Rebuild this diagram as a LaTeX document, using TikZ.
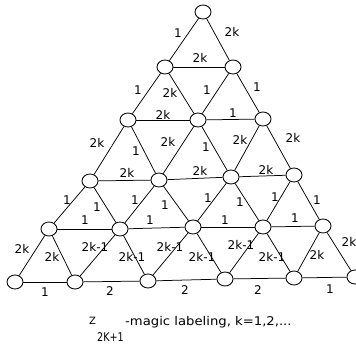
\documentclass[tikz,border=0pt]{standalone}
\usepackage{fontspec}
\setmainfont{DejaVu Sans}
\usetikzlibrary{shapes.geometric}
\begin{document}
\begin{tikzpicture}[x=1pt,y=-1pt,
  vtx/.style={draw,ellipse,fill=white,minimum width=16pt,minimum height=14pt,inner sep=0pt,line width=0.85pt},
  edg/.style={line width=0.75pt},
  lab/.style={inner sep=0pt,font=\fontsize{12}{12}\selectfont},
  captext/.style={inner sep=0pt,anchor=base west}]
\useasboundingbox (0,0) rectangle (356,350);
\clip (0,0) rectangle (356,350);
\foreach \n/\x/\y in {11/203/12,
  21/165/67, 22/233/67,
  31/128/120, 32/198/120, 33/263/119,
  41/90/181, 42/159/180, 43/231/177, 44/294/175,
  51/49/229, 52/120/229, 53/193/227, 54/263/227, 55/323/226,
  61/15/282, 62/75/282, 63/148/281, 64/225/279, 65/294/278, 66/355/277}
  \node[vtx] (n\n) at (\x,\y) {};
\foreach \a/\b in {11/21, 21/31, 22/32, 31/41, 32/42, 33/43, 41/51, 42/52, 43/53, 44/54, 51/61, 52/62, 53/63, 54/64, 55/65,
  11/22, 21/32, 22/33, 31/42, 32/43, 33/44, 41/52, 42/53, 43/54, 44/55, 51/62, 52/63, 53/64, 54/65, 55/66,
  21/22, 31/32, 32/33, 41/42, 42/43, 43/44, 51/52, 52/53, 53/54, 54/55, 61/62, 62/63, 63/64, 64/65, 65/66}
  \draw[edg] (n\a) -- (n\b);
\foreach \t/\x/\y [count=\i] in {1/178/33, 2k/232/32,
  2k/200/58,
  1/138/90, 2k/170/93, 1/207/90, 1/257/87,
  2k/163/115, 1/233/113,
  2k/97/143, 1/136/151, 2k/168/142, 1/206/147, 2k/240/140, 2k/293/138,
  2k/127/173, 2k/200/171, 2k/266/170,
  1/67/200, 1/97/207, 1/135/200, 1/165/205, 1/208/198, 1/240/202, 1/275/197, 1/317/200,
  1/85/220, 1/150/220, 1/225/220, 1/295/218,
  2k/22/249, 2k/52/257, 2k-1/95/247, 2k-1/132/257, 2k-1/170/247, 2k-1/202/257, 2k-1/241/245, 2k-1/272/257, 2k/317/255, 2k/349/242,
  1/45/292, 2/110/291, 2/185/290, 2/258/290, 1/330/289}
  \node[lab] (l\i) at (\x,\y) {\t};
\node[captext,font=\fontsize{10}{10}\selectfont] (capz) at (89,324) {Z};
\node[captext,font=\fontsize{12}{12}\selectfont] (capsub) at (97,341) {\scalebox{0.8}[1]{2K+1}};
\node[captext,font=\fontsize{12}{12}\selectfont] (captxt) at (125,325) {\scalebox{1.1}[1]{-magic labeling, k=1,2,...}};
\end{tikzpicture}
\end{document}
